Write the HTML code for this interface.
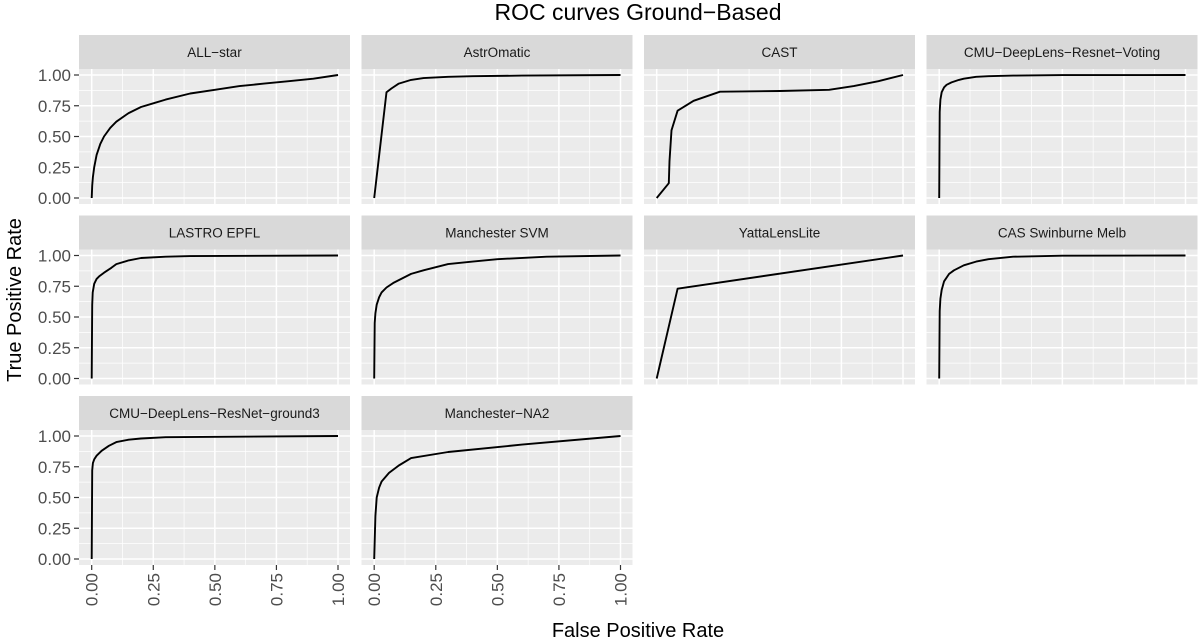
<!DOCTYPE html>
<html><head><meta charset="utf-8"><style>
body{margin:0;background:#fff;}
svg{display:block;font-family:"Liberation Sans",sans-serif;}
</style></head><body>
<svg id="chart" width="1200" height="641" viewBox="0 0 1200 641">
<text x="638" y="20" text-anchor="middle" font-size="23" fill="#000">ROC curves Ground−Based</text>
<text transform="translate(21,300) rotate(-90)" text-anchor="middle" font-size="20" fill="#000">True Positive Rate</text>
<text x="638" y="637" text-anchor="middle" font-size="20" fill="#000">False Positive Rate</text>
</svg>
<script>
const panelNames = ["ALL−star","AstrOmatic","CAST","CMU−DeepLens−Resnet−Voting","LASTRO EPFL","Manchester SVM","YattaLensLite","CAS Swinburne Melb","CMU−DeepLens−ResNet−ground3","Manchester−NA2"];
const fprSeries = [
 [0,0.002,0.005,0.01,0.02,0.035,0.05,0.075,0.1,0.15,0.2,0.25,0.3,0.4,0.5,0.6,0.7,0.8,0.9,1],
 [0,0.05,0.07,0.1,0.15,0.2,0.3,0.4,0.6,1],
 [0,0.049,0.052,0.06,0.085,0.15,0.257,0.5,0.7,0.8,0.9,1],
 [0,0.002,0.005,0.01,0.02,0.03,0.05,0.08,0.1,0.15,0.2,0.3,0.5,1],
 [0,0.002,0.004,0.01,0.02,0.03,0.05,0.08,0.1,0.15,0.2,0.3,0.4,1],
 [0,0.002,0.005,0.01,0.02,0.03,0.05,0.08,0.1,0.15,0.2,0.3,0.4,0.5,0.7,1],
 [0,0.085,1],
 [0,0.002,0.005,0.01,0.02,0.04,0.06,0.1,0.15,0.2,0.3,0.5,1],
 [0,0.002,0.005,0.01,0.02,0.04,0.07,0.1,0.15,0.2,0.3,1],
 [0,0.005,0.01,0.02,0.03,0.06,0.1,0.15,0.3,0.6,1]
];
const tprSeries = [
 [0,0.1,0.17,0.25,0.35,0.44,0.5,0.57,0.62,0.69,0.74,0.77,0.8,0.85,0.88,0.91,0.93,0.95,0.97,1],
 [0,0.86,0.89,0.93,0.96,0.975,0.985,0.99,0.995,1],
 [0,0.12,0.3,0.55,0.71,0.79,0.864,0.87,0.88,0.91,0.95,1],
 [0,0.7,0.8,0.86,0.9,0.92,0.94,0.96,0.97,0.985,0.99,0.995,0.999,1],
 [0,0.6,0.7,0.77,0.81,0.83,0.86,0.9,0.93,0.96,0.98,0.99,0.995,1],
 [0,0.45,0.53,0.6,0.66,0.7,0.74,0.78,0.8,0.85,0.88,0.93,0.95,0.97,0.99,1],
 [0,0.73,1],
 [0,0.55,0.65,0.72,0.79,0.85,0.88,0.92,0.95,0.97,0.99,0.998,1],
 [0,0.72,0.78,0.81,0.84,0.88,0.92,0.95,0.97,0.98,0.99,1],
 [0,0.35,0.5,0.58,0.63,0.7,0.76,0.82,0.87,0.93,1]
];
const tickValues = [0,0.25,0.5,0.75,1];
const tickLabels = ["0.00","0.25","0.50","0.75","1.00"];

const svg = document.getElementById('chart');
const NS = "http://www.w3.org/2000/svg";
function mk(tag, attrs, parent){const e=document.createElementNS(NS,tag);for(const k in attrs)e.setAttribute(k,attrs[k]);(parent||svg).appendChild(e);return e;}
const colX0=79, colStep=282.5, pw=271, rowY0=35, rowStep=180.5, stripH=34, ph=135;
panelNames.forEach((name,i)=>{
  const c=i%4, r=Math.floor(i/4);
  const px=colX0+c*colStep, sy=rowY0+r*rowStep, py=sy+stripH;
  const xs=v=>px+12.7+v*246.3;
  const ys=v=>py+129-v*123;
  const g=mk('g',{});
  
  
  const strip=mk('rect',{x:px,y:sy,width:pw,height:stripH,fill:'#d9d9d9'},g);
  
  
  const st=mk('text',{x:px+pw/2,y:sy+22,'text-anchor':'middle','font-size':13.5,fill:'#1a1a1a'},g);
  st.textContent=name;
  
  
  const bg=mk('rect',{x:px,y:py,width:pw,height:ph,fill:'#ebebeb'},g);
  
  
  for(let k=0;k<4;k++){
    const m=(tickValues[k]+tickValues[k+1])/2;
    mk('line',{x1:px,x2:px+pw,y1:ys(m),y2:ys(m),stroke:'#fff','stroke-width':0.7},g);
    mk('line',{x1:xs(m),x2:xs(m),y1:py,y2:py+ph,stroke:'#fff','stroke-width':0.7},g);
  }
  tickValues.forEach(v=>{
    mk('line',{x1:px,x2:px+pw,y1:ys(v),y2:ys(v),stroke:'#fff','stroke-width':1.5},g);
    mk('line',{x1:xs(v),x2:xs(v),y1:py,y2:py+ph,stroke:'#fff','stroke-width':1.5},g);
  });
  const d=fprSeries[i].map((v,j)=>(j?'L':'M')+xs(v).toFixed(1)+','+ys(tprSeries[i][j]).toFixed(1)).join(' ');
  const p=mk('path',{d:d,fill:'none',stroke:'#000','stroke-width':1.9,'stroke-linejoin':'round'},g);
  
  
  if(c===0){
    tickValues.forEach((v,k)=>{
      mk('line',{x1:px-5,x2:px,y1:ys(v),y2:ys(v),stroke:'#333','stroke-width':1.2},g);
      const t=mk('text',{x:px-8,y:ys(v)+6,'text-anchor':'end','font-size':17,fill:'#4d4d4d'},g);
      t.textContent=tickLabels[k];
      
      
    });
  }
  if(r===2){
    tickValues.forEach((v,k)=>{
      mk('line',{x1:xs(v),x2:xs(v),y1:py+ph,y2:py+ph+5,stroke:'#333','stroke-width':1.2},g);
      const t=mk('text',{transform:`translate(${xs(v)+6},${py+ph+8}) rotate(-90)`,'text-anchor':'end','font-size':17,fill:'#4d4d4d'},g);
      t.textContent=tickLabels[k];
      
      
    });
  }
});
</script>
</body></html>
